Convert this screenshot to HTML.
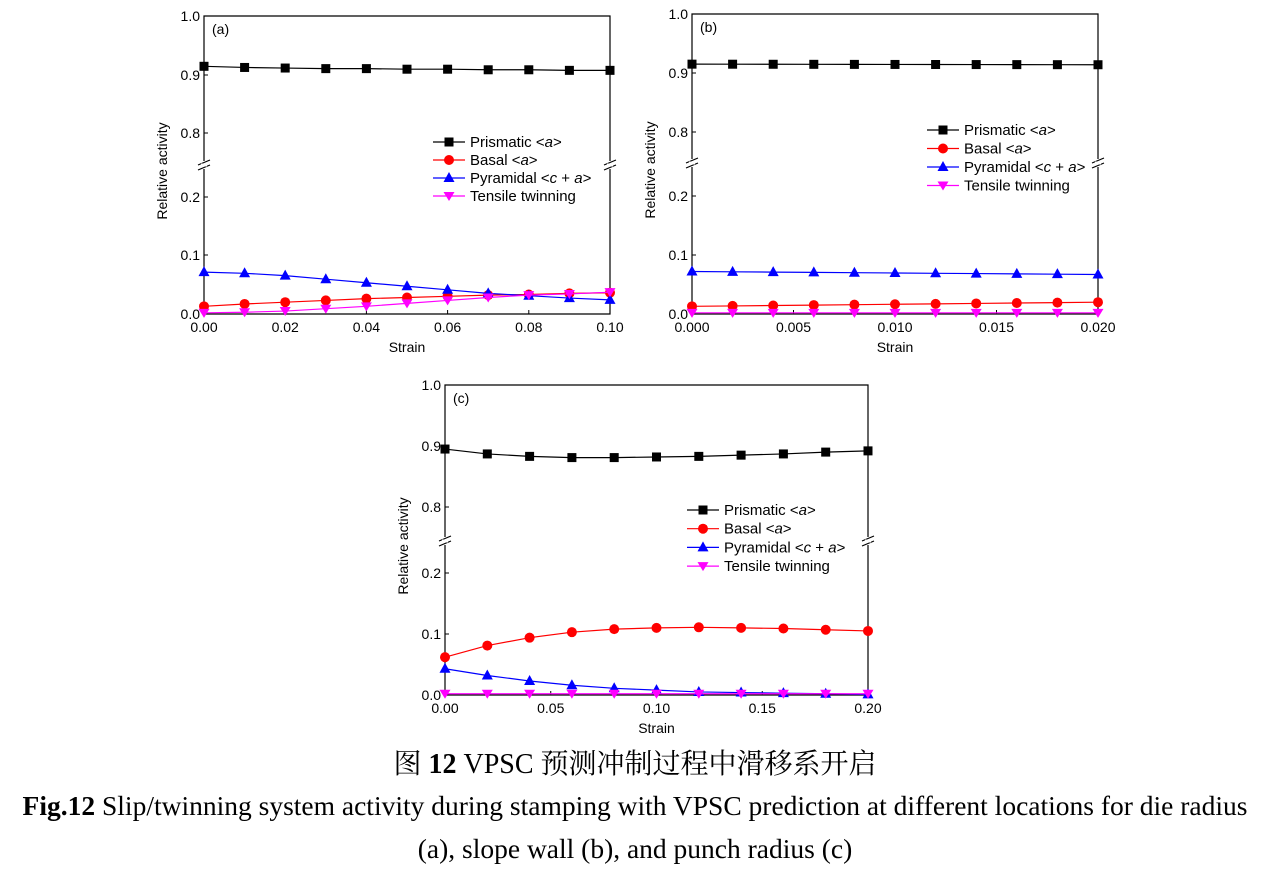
<!DOCTYPE html>
<html><head><meta charset="utf-8"><style>
body{margin:0;background:#fff;width:1270px;height:877px;overflow:hidden;position:relative}
svg{position:absolute;left:0;top:0}
.cap{position:absolute;left:0;width:1270px;text-align:center;font-family:"Liberation Serif","Noto Serif CJK SC",serif;color:#000;white-space:nowrap;line-height:1}
</style></head><body>
<svg id="s" width="1270" height="877" xmlns="http://www.w3.org/2000/svg" font-family="Liberation Sans, Arial, sans-serif"></svg>
<div class="cap" style="top:751px;font-size:28px">图 <b>12</b> VPSC 预测冲制过程中滑移系开启</div>
<div class="cap" style="top:792px;font-size:27.5px"><b>Fig.12</b> Slip/twinning system activity during stamping with VPSC prediction at different locations for die radius</div>
<div class="cap" style="top:835px;font-size:27.5px">(a), slope wall (b), and punch radius (c)</div>
<script>
var out='';
function P(o){
 var x0=o.x0,x1=o.x1,yt=o.yt,y9=o.y9,y8=o.y8,y2=o.y2,y1=o.y1,y0=o.y0,yb=o.yb;
 function Y(v){ if(v>0.5){return y9+(0.9-v)*(y8-y9)/0.1;} return y0-v*(y0-y1)/0.1;}
 function X(t){return x0+t*(x1-x0);}
 var s='';
 s+='<path d="M'+x0+' '+(yb+4)+'V'+y0+'H'+x1+'V'+(yb+4)+'M'+x0+' '+(yb-4)+'V'+yt+'H'+x1+'V'+(yb-4)+'" fill="none" stroke="#000" stroke-width="1.2"/>';
 [x0,x1].forEach(function(x){s+='<path d="M'+(x-6)+' '+(yb)+'l12 -5M'+(x-6)+' '+(yb+5)+'l12 -5" stroke="#000" stroke-width="1.2"/><rect x="'+(x-3)+'" y="'+(yb-1.5)+'" width="6" height="3" fill="#fff"/>';});
 [[1.0,yt],[0.9,y9],[0.8,y8],[0.2,y2],[0.1,y1],[0.0,y0]].forEach(function(t){
  s+='<line x1="'+x0+'" x2="'+(x0+4)+'" y1="'+t[1]+'" y2="'+t[1]+'" stroke="#000"/>';
  s+='<text x="'+(x0-4)+'" y="'+(t[1]+5)+'" font-size="14" text-anchor="end">'+t[0].toFixed(1)+'</text>';});
 o.xt.forEach(function(l,i){var x=x0+i*(x1-x0)/(o.xt.length-1);
  s+='<line x1="'+x+'" x2="'+x+'" y1="'+y0+'" y2="'+(y0-4)+'" stroke="#000"/>';
  s+='<text x="'+x+'" y="'+(y0+18)+'" font-size="14" text-anchor="middle">'+l+'</text>';});
 s+='<text x="'+((x0+x1)/2)+'" y="'+(y0+38)+'" font-size="14" text-anchor="middle">Strain</text>';
 var cy=(yt+y0)/2+6;
 s+='<text transform="translate('+(x0-37)+','+cy+') rotate(-90)" font-size="14" text-anchor="middle">Relative activity</text>';
 s+='<text x="'+(x0+8)+'" y="'+(yt+18)+'" font-size="14">'+o.lab+'</text>';
 var cols=['#000','#f00','#00f','#f0f'];
 o.d.forEach(function(arr,k){
  var n=arr.length,pts=arr.map(function(v,i){return [X(i/(n-1)),Y(v)];});
  s+='<polyline points="'+pts.map(function(p){return p.join(',')}).join(' ')+'" fill="none" stroke="'+cols[k]+'" stroke-width="1.2"/>';
  pts.forEach(function(p){s+=mk(k,p[0],p[1]);});
 });
 var names=['Prismatic &lt;<tspan font-style="italic">a</tspan>&gt;','Basal &lt;<tspan font-style="italic">a</tspan>&gt;','Pyramidal &lt;<tspan font-style="italic">c</tspan> + <tspan font-style="italic">a</tspan>&gt;','Tensile twinning'];
 names.forEach(function(nm,k){var y=o.ly+k*o.lg;
  s+='<line x1="'+o.lx+'" x2="'+(o.lx+32)+'" y1="'+y+'" y2="'+y+'" stroke="'+cols[k]+'" stroke-width="1.2"/>'+mk(k,o.lx+16,y);
  s+='<text x="'+(o.lx+37)+'" y="'+(y+5)+'" font-size="15">'+nm+'</text>';});
 out+=s;
}
function mk(k,x,y){
 if(k==0)return '<rect x="'+(x-4.5)+'" y="'+(y-4.5)+'" width="9" height="9" fill="#000"/>';
 if(k==1)return '<circle cx="'+x+'" cy="'+y+'" r="5" fill="#f00"/>';
 if(k==2)return '<path d="M'+x+' '+(y-6)+'L'+(x+5.5)+' '+(y+4)+'L'+(x-5.5)+' '+(y+4)+'Z" fill="#00f"/>';
 return '<path d="M'+x+' '+(y+5)+'L'+(x+5.5)+' '+(y-4)+'L'+(x-5.5)+' '+(y-4)+'Z" fill="#f0f"/>';
}
function lin(a,b,n){var r=[];for(var i=0;i<n;i++)r.push(a+(b-a)*i/(n-1));return r;}
var z=lin(0.002,0.002,11);
P({x0:204,x1:610,yt:16,y9:75,y8:133,y2:197,y1:255,y0:314,yb:165,lab:'(a)',
 xt:['0.00','0.02','0.04','0.06','0.08','0.10'],lx:433,ly:142,lg:18,
 d:[[.915,.913,.912,.911,.911,.910,.910,.909,.909,.908,.908],
    [.013,.017,.020,.023,.026,.028,.030,.032,.033,.035,.036],
    [.071,.069,.065,.059,.053,.047,.041,.035,.031,.027,.024],
    [.002,.003,.005,.009,.013,.018,.023,.028,.032,.034,.037]]});
P({x0:692,x1:1098,yt:14,y9:73,y8:132,y2:196,y1:255,y0:314,yb:163,lab:'(b)',
 xt:['0.000','0.005','0.010','0.015','0.020'],lx:927,ly:130,lg:18.5,
 d:[lin(.915,.914,11),lin(.013,.020,11),lin(.072,.067,11),z]});
P({x0:445,x1:868,yt:385,y9:446,y8:507,y2:573,y1:634,y0:695,yb:541,lab:'(c)',
 xt:['0.00','0.05','0.10','0.15','0.20'],lx:687,ly:510,lg:18.7,
 d:[[.895,.887,.883,.881,.881,.882,.883,.885,.887,.890,.892],
    [.062,.081,.094,.103,.108,.110,.111,.110,.109,.107,.105],
    [.043,.032,.023,.016,.011,.008,.005,.004,.003,.002,.001],z]});
document.getElementById('s').innerHTML=out;
</script>
</body></html>
